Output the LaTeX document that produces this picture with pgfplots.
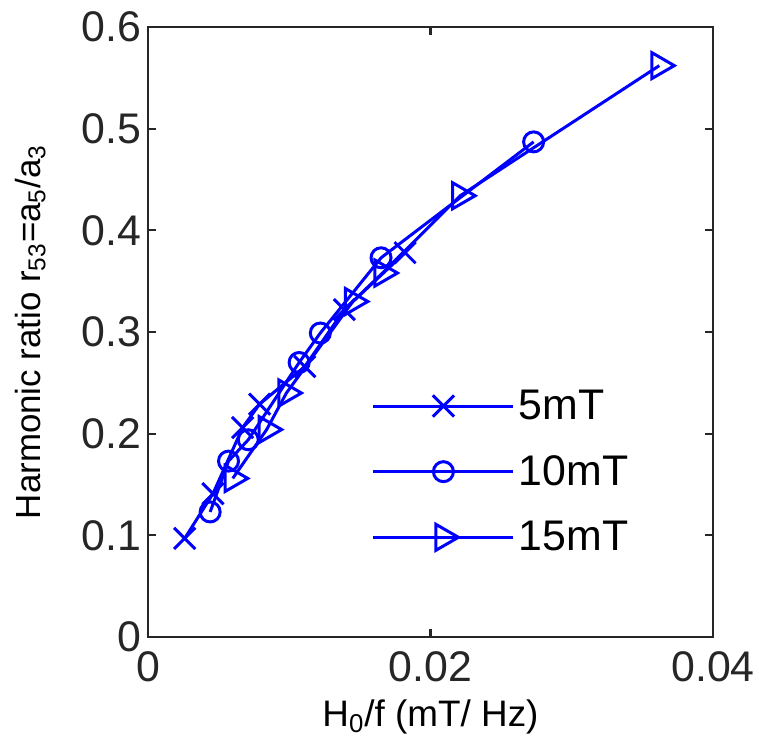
\documentclass[border=0pt]{standalone}
\usepackage{pgfplots}
\pgfplotsset{compat=1.18}
\usepackage{fontspec}
\setmainfont{Liberation Sans}
\begin{document}
\begin{tikzpicture}
\begin{axis}[
  scale only axis,
  width=282.5bp, height=305bp,
  xmin=0, xmax=0.04, ymin=0, ymax=0.6,
  xtick={0,0.02,0.04}, xticklabels={0,0.02,0.04},
  ytick={0,0.1,0.2,0.3,0.4,0.5,0.6},
  yticklabels={0,0.1,0.2,0.3,0.4,0.5,0.6},
  scaled x ticks=false, scaled y ticks=false,
  tick align=inside,
  major tick length=4bp,
  axis line style={black!85, line width=1.1bp},
  tick style={black!85, line width=1.1bp},
  /pgf/number format/assume math mode=true,
  tick label style={font=\fontsize{21.5}{24}\selectfont, text=black!85},
  xticklabel style={yshift=-4bp},
  xlabel={H\textsubscript{0}/f (mT/ Hz)},
  xlabel style={font=\fontsize{18.5}{21}\selectfont, yshift=-2bp},
  ylabel={Harmonic ratio r\textsubscript{53}=a\textsubscript{5}/a\textsubscript{3}},
  ylabel style={font=\fontsize{17.5}{20}\selectfont, yshift=11bp},
  legend style={draw=none, fill=none, at={(0.385,0.419)}, anchor=north west,
    font=\fontsize{21.5}{24}\selectfont, row sep=12.5bp},
  legend cell align=left,
  legend image code/.code={
    \draw[#1, mark repeat=2, mark phase=2] plot coordinates {(0cm,0cm)(1.235cm,0cm)(2.47cm,0cm)};
  },
  every axis plot/.append style={blue, line width=1.5bp, mark options={solid, line width=1.5bp}},
]
\addplot[mark=x, mark size=7.5bp] coordinates {
(0.0026,0.097) (0.0046,0.141) (0.0067,0.206) (0.0079,0.229) (0.0111,0.266) (0.0139,0.322) (0.0182,0.378)
};
\addlegendentry{5mT}
\addplot[mark=o, mark size=5bp] coordinates {
(0.0044,0.123) (0.0057,0.173) (0.0071,0.194) (0.0107,0.270) (0.0122,0.299) (0.0165,0.373) (0.0273,0.487)
};
\addlegendentry{10mT}
\addplot[mark=triangle, mark size=7.5bp, mark options={rotate=-90}] coordinates {
(0.0060,0.156) (0.0084,0.204) (0.0098,0.240) (0.0145,0.330) (0.0166,0.358) (0.0221,0.434) (0.0362,0.562)
};
\addlegendentry{15mT}
\end{axis}
\pgfresetboundingbox
\path (-74bp,-53.5bp) rectangle (305.5bp,318.5bp);
\end{tikzpicture}
\end{document}
